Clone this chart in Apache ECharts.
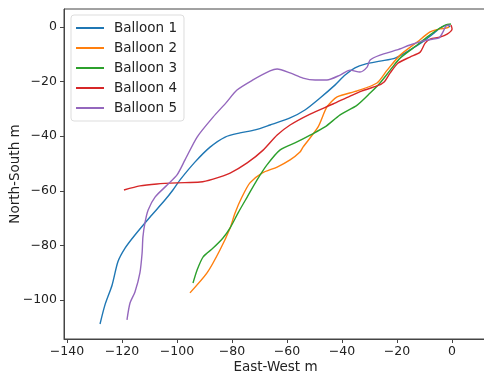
<!DOCTYPE html>
<html style="height: 100%">
<head>
<meta charset="utf-8">
<script src="https://cdn.jsdelivr.net/npm/echarts@6/dist/echarts.min.js"></script>
</head>
<body style="height: 100%; margin: 0">
<div id="container" style="width: 484px; height: 374px"></div>
<script type="text/javascript">
// balloon tracks, [east-west m, north-south m]
var balloon1 = [[-128,-108.8],[-126.2,-101.8],[-123.6,-94.5],[-121.5,-86],[-118.9,-81],[-115.3,-76.2],
    [-109.8,-69.6],[-104.4,-63.4],[-101.5,-59.7],[-98.9,-56],[-93.5,-49.5],[-88,-44],[-82.5,-40.3],[-77.1,-38.8],
    [-71.6,-37.7],[-66.2,-35.9],[-58.9,-33.3],[-53.5,-30.4],[-48,-26],[-42.5,-21.2],[-38.9,-17.6],[-35.3,-15],
    [-31.6,-13.6],[-26.2,-12.5],[-20.7,-11.4],[-15.3,-8.4],[-9.8,-4.8],[-6.5,-2.2],[-4.4,-0.4],[-1.8,0.7],[-0.7,0]];
var balloon2 = [[-95.3,-97.4],[-89.1,-90.1],[-84.4,-81.7],[-80.7,-73.6],[-78.9,-68.1],[-76.4,-62.3],[-73.5,-57.1],
    [-69.1,-53.5],[-63.6,-51.3],[-58.9,-48.7],[-55.3,-45.8],[-54.2,-44],[-48.7,-36.6],[-45.5,-29.3],[-41.8,-25.6],
    [-34.5,-23.4],[-27.3,-20.5],[-23.6,-15.8],[-18.9,-10.3],[-12.7,-5.5],[-8,-1.8],[-4.4,-0.7],[-2.2,-0.4],[-1.1,0]];
var balloon3 = [[-94.2,-93.8],[-92.7,-89],[-90.5,-84.2],[-86.9,-81],[-83.3,-77.3],[-80.7,-73.6],[-77.8,-68.1],
    [-74.5,-62.3],[-70.9,-56],[-67.3,-50.5],[-62.5,-45],[-56.4,-42.1],[-51.6,-39.6],[-46.2,-36.6],[-40.7,-32.2],
    [-34.5,-28.6],[-29.8,-24.2],[-26.2,-20.5],[-22.5,-15.8],[-18.9,-11.4],[-12.7,-6.6],[-9.1,-3.7],[-5.5,-1.1],
    [-2.5,0.7],[-0.4,1.1]];
var balloon4 = [[-119.3,-59.7],[-113.5,-58.2],[-107.3,-57.5],[-100,-57.1],[-91.6,-56.8],[-86.9,-55.7],[-80.7,-53.5],
    [-74.5,-49.8],[-68.7,-45.1],[-63.6,-39.6],[-58.9,-35.9],[-51.6,-31.9],[-43.3,-28.2],[-37.1,-25.3],[-32.7,-23.4],
    [-27.3,-21.6],[-24.7,-20.1],[-22.5,-16.8],[-19.6,-13.2],[-15.3,-11],[-11.6,-9.2],[-9.8,-5.9],[-8,-4.4],
    [-4.4,-3.7],[-1.8,-2.6],[0,-0.7],[-0.4,0.7]];
var balloon5 = [[-118.2,-107.3],[-117.1,-101.1],[-115.3,-97.1],[-113.5,-90.1],[-112.7,-82.8],[-112.4,-76.9],
    [-111.6,-71.4],[-110.5,-67],[-108,-62.3],[-103.6,-57.9],[-100,-54.2],[-97.1,-48.7],[-92.7,-40.3],[-86.9,-33],
    [-82.2,-27.8],[-78.2,-23.1],[-72.4,-19.4],[-66.2,-16.1],[-63.6,-15.4],[-58.9,-16.8],[-54.2,-18.7],[-49.8,-19.4],
    [-45.5,-19.4],[-40.7,-17.6],[-37.1,-15.8],[-33.5,-16.5],[-30.9,-14.7],[-29.8,-12.1],[-26.2,-10.3],[-20,-8.4],
    [-15.3,-6.6],[-10.5,-5.1],[-6.9,-4.4],[-4.7,-4],[-3.3,-1.8],[-2.2,0.4],[-0.7,0.7]];

var names = ['Balloon 1', 'Balloon 2', 'Balloon 3', 'Balloon 4', 'Balloon 5'];
var tracks = [balloon1, balloon2, balloon3, balloon4, balloon5];
var colors = ['#1f77b4', '#ff7f0e', '#2ca02c', '#d62728', '#9467bd'];
var xTicks = [-140, -120, -100, -80, -60, -40, -20, 0];
var yTicks = [-100, -80, -60, -40, -20, 0];

var font = 'DejaVu Sans';
function minus(v) { return String(v).replace('-', '\u2212'); }

var chart = echarts.init(document.getElementById('container'));
var option = {
    animation: false,
    color: colors,
    textStyle: { fontFamily: font },
    grid: {
        left: 64, top: 9, right: -3, bottom: 35,
        outerBoundsMode: 'none', containLabel: false,
        show: true, borderColor: '#444', borderWidth: 1
    },
    legend: {
        left: 71, top: 15, orient: 'vertical',
        itemWidth: 28, itemHeight: 2, itemGap: 6,
        padding: [6, 7, 6, 5],
        backgroundColor: '#fff', borderColor: '#ddd', borderWidth: 1, borderRadius: 3,
        textStyle: { fontSize: 13.5, color: '#222', fontFamily: font, padding: [0, 0, 0, 5] },
        icon: 'rect',
        data: names
    },
    xAxis: {
        type: 'value', min: -141.1, max: 12.7,
        name: 'East-West m', nameLocation: 'middle', nameGap: 21, nameMoveOverlap: false,
        nameTextStyle: { fontSize: 13.5, color: '#222', verticalAlign: 'top' },
        splitLine: { show: false },
        axisLine: { onZero: false, lineStyle: { color: '#444' } },
        axisTick: { show: true, length: 4, customValues: xTicks, lineStyle: { color: '#444' } },
        axisLabel: { customValues: xTicks, fontSize: 12.5, color: '#222', margin: 6, formatter: minus }
    },
    yAxis: {
        type: 'value', min: -114.3, max: 6.6,
        name: 'North-South m', nameLocation: 'middle', nameGap: 42, nameMoveOverlap: false,
        nameTextStyle: { fontSize: 13.5, color: '#222' },
        splitLine: { show: false },
        axisLine: { show: true, onZero: false, lineStyle: { color: '#444' } },
        axisTick: { show: true, length: 4, customValues: yTicks, lineStyle: { color: '#444' } },
        axisLabel: { customValues: yTicks, fontSize: 12.5, color: '#222', margin: 7, formatter: minus }
    },
    series: names.map(function (n, i) {
        return {
            name: n, type: 'line', data: tracks[i],
            showSymbol: false, smooth: 0.25,
            lineStyle: { width: 1.4, color: colors[i] }
        };
    })
};
chart.setOption(option);
</script>
</body>
</html>
